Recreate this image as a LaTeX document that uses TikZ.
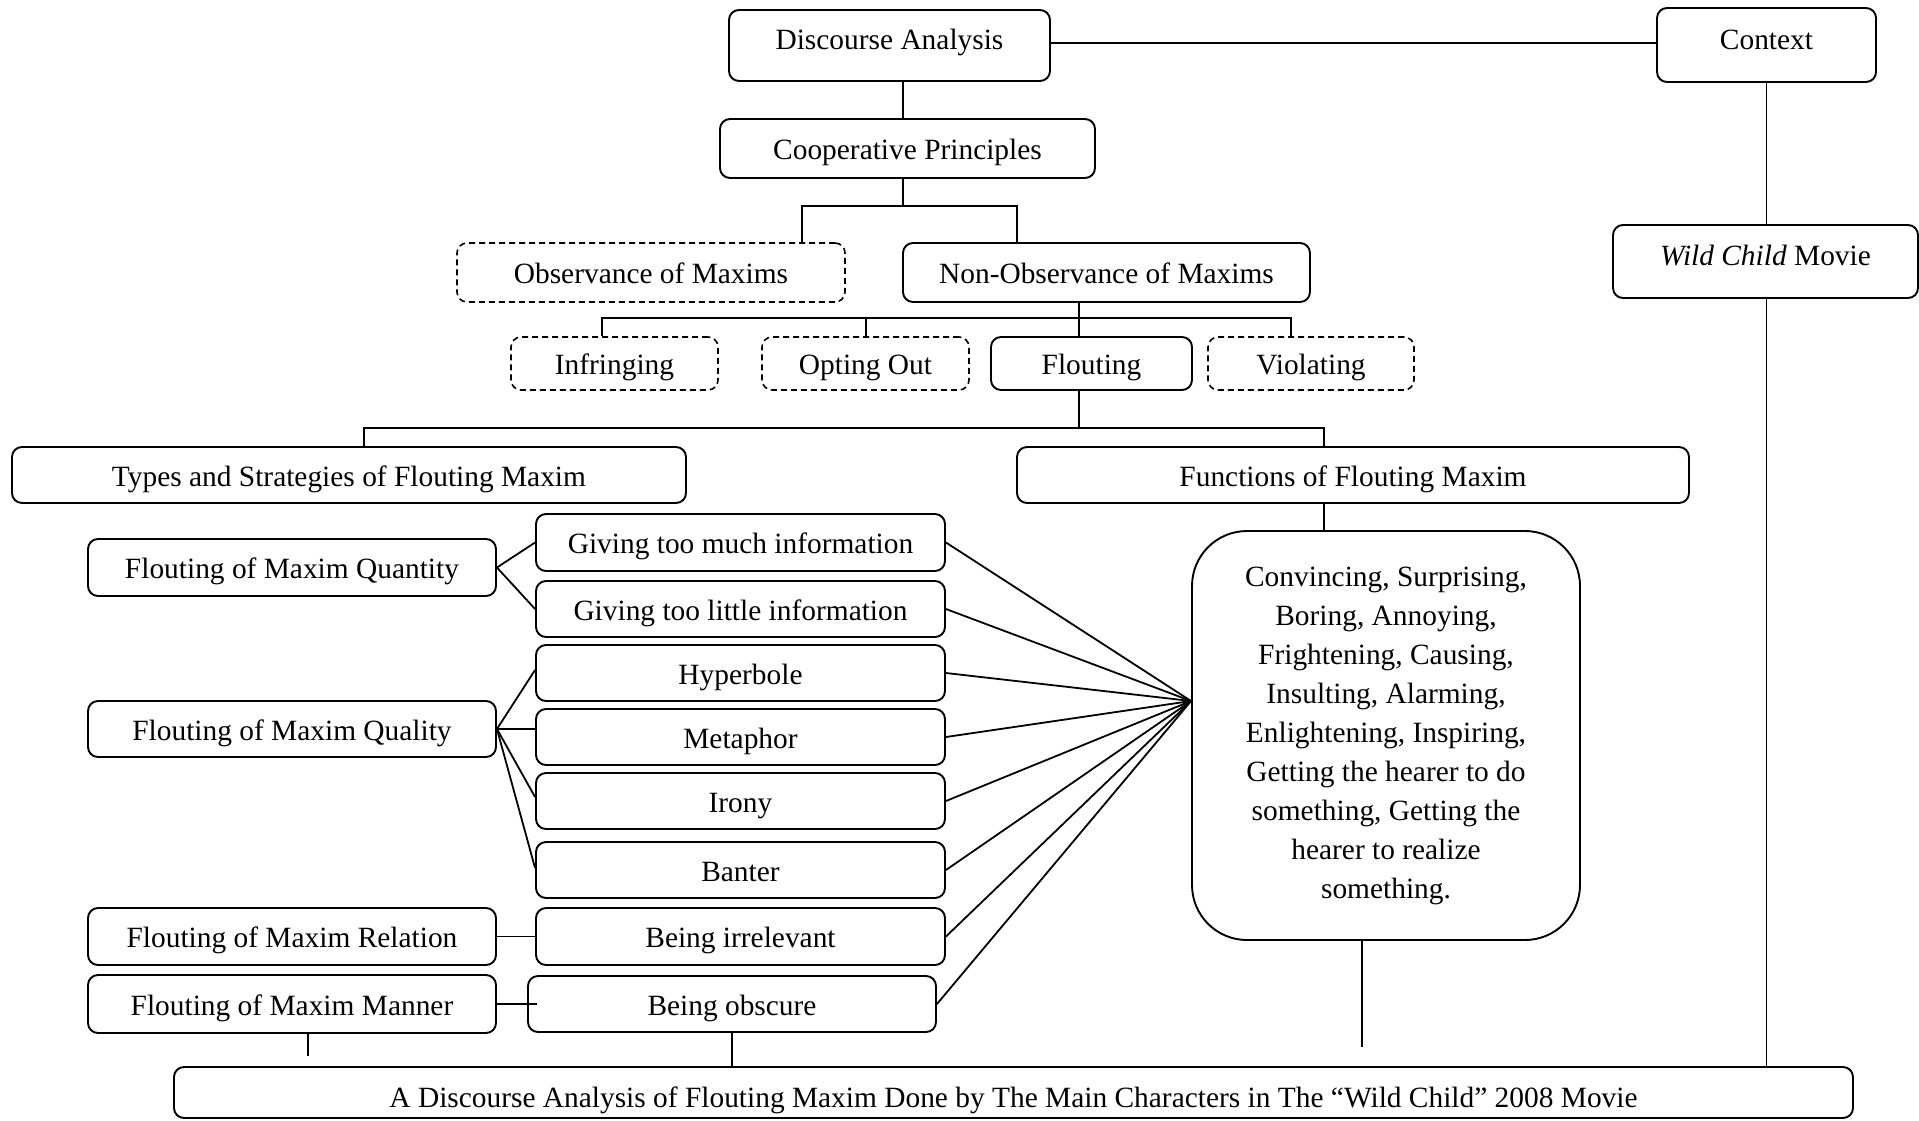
\documentclass[tikz,border=0pt]{standalone}
\usepackage{fontspec}
\setmainfont{Liberation Serif}
\begin{document}
\begin{tikzpicture}[x=1pt,y=-1pt,
  box/.style={draw, line width=1.9pt, rounded corners=10pt, inner sep=0pt, align=center,
    font=\fontsize{29.4}{39}\selectfont, text height=30pt, text depth=8pt},
  hibox/.style={box, text height=16pt, text depth=8pt},
  dbox/.style={box, line width=1.6pt, dash pattern=on 6pt off 4pt},
  conn/.style={line width=1.8pt},
  thin/.style={line width=1.4pt}
]
\useasboundingbox (0,0) rectangle (1919,1120);
% top level
\node[hibox, minimum width=321pt, minimum height=71pt] (da) at (889.5,45.5) {Discourse Analysis};
\node[hibox, minimum width=219pt, minimum height=74pt] (ctx) at (1766.5,45) {Context};
\node[box, minimum width=375pt, minimum height=59pt] (cp) at (907.5,148.5) {Cooperative Principles};
\node[dbox, minimum width=388pt, minimum height=59pt] (obs) at (651,272.5) {Observance of Maxims};
\node[box, minimum width=407pt, minimum height=59pt] (nobs) at (1106.5,272.5) {Non-Observance of Maxims};
\node[dbox, minimum width=207pt, minimum height=53pt] (inf) at (614.5,363.5) {Infringing};
\node[dbox, minimum width=207pt, minimum height=53pt] (opt) at (865.5,363.5) {Opting Out};
\node[box, minimum width=201pt, minimum height=53pt] (flo) at (1091.5,363.5) {Flouting};
\node[dbox, minimum width=206pt, minimum height=53pt] (vio) at (1311,363.5) {Violating};
\node[hibox, minimum width=305pt, minimum height=73pt] (wild) at (1765.5,261.5) {\textit{Wild Child} Movie};
\node[box, minimum width=674pt, minimum height=56pt] (types) at (349,475) {Types and Strategies of Flouting Maxim};
\node[box, minimum width=672pt, minimum height=56pt] (func) at (1353,475) {Functions of Flouting Maxim};
\node[box, rounded corners=55pt, text height={}, text depth={}, minimum width=388pt, minimum height=409pt] (big) at (1386,735.5)
  {Convincing, Surprising,\\ Boring, Annoying,\\ Frightening, Causing,\\ Insulting, Alarming,\\ Enlightening, Inspiring,\\ Getting the hearer to do\\ something, Getting the\\ hearer to realize\\ something.};
% left column
\node[box, minimum width=408pt, minimum height=57pt] (quan) at (292,567.5) {Flouting of Maxim Quantity};
\node[box, minimum width=408pt, minimum height=56pt] (qual) at (292,729) {Flouting of Maxim Quality};
\node[box, minimum width=408pt, minimum height=57pt] (rel) at (292,936.5) {Flouting of Maxim Relation};
\node[box, minimum width=408pt, minimum height=58pt] (man) at (292,1004) {Flouting of Maxim Manner};
% middle column
\node[box, minimum width=409pt, minimum height=57pt] (g1) at (740.5,542.5) {Giving too much information};
\node[box, minimum width=409pt, minimum height=56pt] (g2) at (740.5,609) {Giving too little information};
\node[box, minimum width=409pt, minimum height=56pt] (hyp) at (740.5,673) {Hyperbole};
\node[box, minimum width=409pt, minimum height=56pt] (met) at (740.5,737) {Metaphor};
\node[box, minimum width=409pt, minimum height=56pt] (iro) at (740.5,801) {Irony};
\node[box, minimum width=409pt, minimum height=56pt] (ban) at (740.5,870) {Banter};
\node[box, minimum width=409pt, minimum height=57pt] (irr) at (740.5,936.5) {Being irrelevant};
\node[box, minimum width=408pt, minimum height=56pt] (obsc) at (732,1004) {Being obscure};
% bottom
\node[box, text height=37pt, minimum width=1679pt, minimum height=51pt] (bot) at (1013.5,1092.5) {A Discourse Analysis of Flouting Maxim Done by The Main Characters in The “Wild Child” 2008 Movie};
% helper coordinates
\coordinate (y0) at (0,43);
\coordinate (j1) at (903,206);
\coordinate (j1l) at (802,206);
\coordinate (j1r) at (1017,206);
\coordinate (j2) at (1079,318);
\coordinate (j2a) at (602,318);
\coordinate (j2b) at (866,318);
\coordinate (j2c) at (1291,318);
\coordinate (j3) at (1079,428);
\coordinate (j3l) at (364,428);
\coordinate (j3r) at (1324,428);
\coordinate (fy) at (0,701);
\coordinate (xb) at (1362,0);
\coordinate (xm) at (308,0);
% connectors
\draw[conn] (da.east |- y0) -- (ctx.west |- y0);
\draw[conn] (da.south -| j1) -- (cp.north -| j1);
\draw[conn] (cp.south -| j1) -- (j1);
\draw[conn] (obs.north -| j1l) -- (j1l) -- (j1r) -- (nobs.north -| j1r);
\draw[conn] (nobs.south -| j2) -- (flo.north -| j2);
\draw[conn] (inf.north -| j2a) -- (j2a) -- (j2c) -- (vio.north -| j2c);
\draw[conn] (j2b) -- (opt.north -| j2b);
\draw[conn] (flo.south -| j3) -- (j3);
\draw[conn] (types.north -| j3l) -- (j3l) -- (j3r) -- (func.north -| j3r);
\draw[thin] (func.south -| j3r) -- (big.north -| j3r);
\draw[thin] (ctx.south) -- (wild.north -| ctx.south);
\draw[thin] (wild.south -| ctx.south) -- (bot.north -| ctx.south);
\draw[conn] (quan.east) -- (g1.west);
\draw[conn] (quan.east) -- (g2.west);
\draw[conn] (qual.east) -- ([yshift=3pt]hyp.west);
\draw[conn] (qual.east) -- (met.west |- qual.east);
\draw[conn] (qual.east) -- ([yshift=4pt]iro.west);
\draw[conn] (qual.east) -- ([yshift=2pt]ban.west);
\draw[conn] (rel.east) -- (irr.west);
\draw[conn] (man.east) -- ++(40,0);
\coordinate (fan) at (big.west |- fy);
\foreach \n in {g1,g2,hyp,met,iro,ban,irr,obsc}{
  \draw[conn] (\n.east) -- (fan);
}
\draw[thin] (big.south -| xb) -- ++(0,106);
\draw[thin] (obsc.south) -- (bot.north -| obsc.south);
\draw[thin] (man.south -| xm) -- ++(0,22);
\end{tikzpicture}
\end{document}
